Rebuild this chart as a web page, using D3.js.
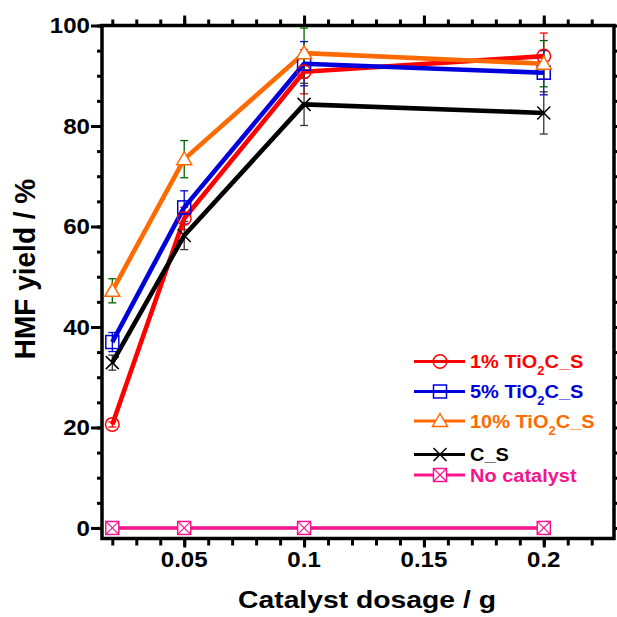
<!DOCTYPE html>
<html><head><meta charset="utf-8">
<script src="https://cdn.jsdelivr.net/npm/d3@7"></script>
<style>body{margin:0;background:#fff}svg{display:block}text{font-family:"Liberation Sans",Arial,sans-serif;font-weight:bold}</style>
</head><body><svg id="c" width="617" height="617"></svg>
<script>
const dosage = [0.02, 0.05, 0.1, 0.2];
const seriesNames = ["1% TiO2C_S", "5% TiO2C_S", "10% TiO2C_S", "C_S", "No catalyst"];
const yield1 = [20.6, 61.6, 90.8, 93.9];
const err1 = [0.5, 2.2, 4.4, 4.6];
const yield5 = [37.0, 63.8, 92.4, 90.6];
const err5 = [1.9, 3.3, 4.4, 4.4];
const yield10 = [47.2, 73.4, 94.5, 92.4];
const err10 = [2.4, 3.7, 5.0, 4.6];
const yieldCS = [32.9, 58.2, 84.3, 82.6];
const errCS = [1.5, 2.8, 4.2, 4.2];
const yieldNone = [0, 0, 0, 0];
const errNone = [0, 0, 0, 0];
const xTicks = [0.05, 0.1, 0.15, 0.2];
const xTickLabels = ["0.05", "0.1", "0.15", "0.2"];
const yTicks = [0, 20, 40, 60, 80, 100];
const yTickLabels = ["0", "20", "40", "60", "80", "100"];

const series = [
  {name: seriesNames[0], y: yield1, e: err1, color: "#ff0000", ecolor: "#ff0000", marker: "circle", sub: true},
  {name: seriesNames[1], y: yield5, e: err5, color: "#0000dd", ecolor: "#0000dd", marker: "square", sub: true},
  {name: seriesNames[2], y: yield10, e: err10, color: "#ff6a00", ecolor: "#006400", marker: "triangle", sub: true},
  {name: seriesNames[3], y: yieldCS, e: errCS, color: "#000000", ecolor: "#333333", marker: "cross", sub: false},
  {name: seriesNames[4], y: yieldNone, e: errNone, color: "#f5148c", ecolor: "#f5148c", marker: "xsquare", sub: false}
];

const svg = d3.select("#c");
const L = 102, R = 614, T = 25.5, B = 538.5;
const x = d3.scaleLinear().domain([0.0157, 0.2293]).range([L, R]);
const y = d3.scaleLinear().domain([-2.1, 100]).range([B, T]);
const KX = 1.12;

const minorX = d3.range(0.02, 0.23, 0.01).map(v => +v.toFixed(2));
const minorY = d3.range(0, 101, 5);
function styleAxis(g){ g.select(".domain").remove(); g.selectAll("line").attr("stroke","#000").attr("stroke-width",3); g.selectAll("text").remove(); }

svg.append("g").attr("transform",`translate(0,${B})`).call(d3.axisBottom(x).tickValues(minorX).tickSize(7)).call(styleAxis);
svg.append("g").attr("transform",`translate(0,${B})`).call(d3.axisBottom(x).tickValues(xTicks).tickSize(9)).call(styleAxis);
svg.append("g").attr("transform",`translate(0,${T})`).call(d3.axisTop(x).tickValues(minorX).tickSize(6)).call(styleAxis);
svg.append("g").attr("transform",`translate(0,${T})`).call(d3.axisTop(x).tickValues(xTicks).tickSize(10)).call(styleAxis);
svg.append("g").attr("transform",`translate(${L},0)`).call(d3.axisLeft(y).tickValues(minorY).tickSize(5)).call(styleAxis);
svg.append("g").attr("transform",`translate(${L},0)`).call(d3.axisLeft(y).tickValues(yTicks).tickSize(11)).call(styleAxis);
svg.append("g").attr("transform",`translate(${R},0)`).call(d3.axisRight(y).tickValues(minorY).tickSize(6)).call(styleAxis);

svg.append("rect").attr("x",L).attr("y",T).attr("width",R-L).attr("height",B-T).attr("fill","none").attr("stroke","#000").attr("stroke-width",3.5);

// tick labels
xTicks.forEach((v,i) => svg.append("text").attr("transform",`translate(${x(v)},567) scale(${KX},1)`).attr("text-anchor","middle").attr("font-size",21.5).text(xTickLabels[i]));
yTicks.forEach((v,i) => svg.append("text").attr("transform",`translate(90,${y(v)+7.7}) scale(${KX},1)`).attr("text-anchor","end").attr("font-size",21.5).text(yTickLabels[i]));

// axis titles
svg.append("text").attr("transform",`translate(367,608) scale(1.18,1)`).attr("text-anchor","middle").attr("font-size",24).text("Catalyst dosage / g");
svg.append("text").attr("transform","translate(35,269) rotate(-90) scale(1,1.08)").attr("text-anchor","middle").attr("font-size",28).text("HMF yield / %");

// error bars
series.forEach(s => {
  const g = svg.append("g");
  dosage.forEach((d,i) => {
    if (s.e[i] <= 0) return;
    const cx = x(d), y1 = y(Math.min(s.y[i]+s.e[i], 100.5)), y2 = y(s.y[i]-s.e[i]);
    g.append("line").attr("x1",cx).attr("x2",cx).attr("y1",y1).attr("y2",y2).attr("stroke",s.ecolor).attr("stroke-width",1.3);
    [y(s.y[i]+s.e[i]), y2].forEach(yy => g.append("line").attr("x1",cx-4).attr("x2",cx+4).attr("y1",yy).attr("y2",yy).attr("stroke",s.ecolor).attr("stroke-width",1.3));
  });
});

// lines
const line = d3.line().x((d,i)=>x(dosage[i])).y(d=>y(d));
series.forEach(s => {
  svg.append("path").attr("d", line(s.y)).attr("fill","none").attr("stroke", s.color).attr("stroke-width", s.marker==="xsquare"?3.5:4.6).attr("stroke-linejoin","round");
});

function drawMarker(g, type, cx, cy, color){
  if (type === "circle") g.append("circle").attr("cx",cx).attr("cy",cy).attr("r",6.8).attr("fill","none").attr("stroke",color).attr("stroke-width",1.5);
  else if (type === "square") g.append("rect").attr("x",cx-6.5).attr("y",cy-6.5).attr("width",13).attr("height",13).attr("fill","none").attr("stroke",color).attr("stroke-width",1.5);
  else if (type === "triangle") g.append("path").attr("d",`M${cx},${cy-7.5}L${cx+7.5},${cy+5.5}L${cx-7.5},${cy+5.5}Z`).attr("fill","#fff").attr("stroke",color).attr("stroke-width",1.5);
  else if (type === "cross") g.append("path").attr("d",`M${cx-6.5},${cy-6.5}L${cx+6.5},${cy+6.5}M${cx-6.5},${cy+6.5}L${cx+6.5},${cy-6.5}`).attr("stroke",color).attr("stroke-width",1.5);
  else if (type === "xsquare") { g.append("rect").attr("x",cx-6.5).attr("y",cy-6.5).attr("width",13).attr("height",13).attr("fill","#fff").attr("stroke",color).attr("stroke-width",1.5);
    g.append("path").attr("d",`M${cx-6.5},${cy-6.5}L${cx+6.5},${cy+6.5}M${cx-6.5},${cy+6.5}L${cx+6.5},${cy-6.5}`).attr("stroke",color).attr("stroke-width",1.2); }
}
series.forEach(s => {
  const g = svg.append("g");
  dosage.forEach((d,i) => drawMarker(g, s.marker, x(d), y(s.y[i]), s.color));
});

// legend
const legY = [361.5, 391.5, 421, 454.5, 475];
series.forEach((s,i) => {
  const g = svg.append("g");
  g.append("line").attr("x1",414).attr("x2",465).attr("y1",legY[i]).attr("y2",legY[i]).attr("stroke",s.color).attr("stroke-width",3);
  drawMarker(g, s.marker, 440, legY[i], s.color);
  const t = g.append("text").attr("transform",`translate(470,${legY[i]+6.5}) scale(1.08,1)`).attr("font-size",18.5).attr("fill",s.color);
  if (s.sub) {
    const parts = s.name.split("TiO2");
    t.append("tspan").text(parts[0] + "TiO");
    t.append("tspan").attr("font-size",12).attr("dy",7).text("2");
    t.append("tspan").attr("dy",-7).text(parts[1]);
  } else t.text(s.name);
});
</script></body></html>
